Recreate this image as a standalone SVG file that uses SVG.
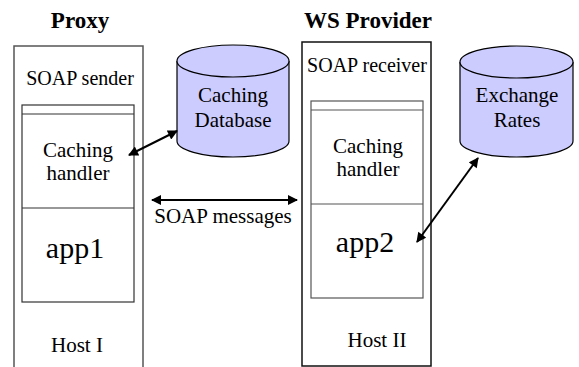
<svg xmlns="http://www.w3.org/2000/svg" width="579" height="367" viewBox="0 0 579 367" font-family="'Liberation Serif', 'Times New Roman', serif">
<style>
text{font-family:'Liberation Serif','Times New Roman',Times,serif;fill:#000;text-anchor:middle}
.t{font-size:20px}
.m{font-size:21px}
.b{font-size:23px;font-weight:bold}
.big{font-size:30px}
.host{fill:#fff;stroke:#555;stroke-width:1.5}
.box{fill:#fff;stroke:#333;stroke-width:1.2}
.cyl{fill:#ccccff;stroke:#000;stroke-width:1.2}
.conn{stroke:#000;stroke-width:2;fill:none;marker-start:url(#ah);marker-end:url(#ah)}
</style>
<defs>
<marker id="ah" viewBox="0 0 10 10" refX="9" refY="5" markerWidth="5.5" markerHeight="5" orient="auto-start-reverse" markerUnits="strokeWidth">
<path d="M0,0 L10,5 L0,10 z" fill="#000"/>
</marker>
</defs>
<rect width="579" height="367" fill="#fff"/>
<g id="proxy">
<text class="b" x="80" y="28">Proxy</text>
<path class="host" d="M14,367 V46 H143 V367"/>
<text class="t" x="80" y="85">SOAP sender</text>
<text class="m" x="77" y="352">Host I</text>
</g>
<g id="proxy-stack">
<rect class="box" x="22" y="105" width="112" height="197"/>
<line class="box" x1="22" y1="114" x2="134" y2="114"/>
<line class="box" x1="22" y1="208" x2="134" y2="208"/>
<text class="m" x="78" y="157">Caching</text>
<text class="m" x="78" y="180">handler</text>
<text class="big" x="75" y="258">app1</text>
</g>
<g id="caching-db">
<path class="cyl" d="M177,61 V141 A56,16 0 0 0 289,141 V61 A56,16 0 0 0 177,61 Z"/>
<path class="cyl" fill="none" d="M177,61 A56,16 0 0 0 289,61"/>
<text class="m" x="233" y="102">Caching</text>
<text class="m" x="233" y="127">Database</text>
</g>
<g id="provider">
<text class="b" x="368" y="28">WS Provider</text>
<rect class="host" x="302" y="42" width="129" height="324" style="stroke:#111"/>
<text class="t" x="367" y="72">SOAP receiver</text>
<text class="m" x="377" y="347">Host II</text>
</g>
<g id="provider-stack">
<rect class="box" x="311" y="101" width="112" height="197" style="stroke:#555"/>
<line class="box" x1="311" y1="110" x2="423" y2="110" style="stroke:#555"/>
<line class="box" x1="311" y1="204" x2="423" y2="204" style="stroke:#555"/>
<text class="m" x="368" y="153">Caching</text>
<text class="m" x="368" y="176">handler</text>
<text class="big" x="365" y="252">app2</text>
</g>
<g id="exchange-rates">
<path class="cyl" d="M460,62 V141 A56.5,16 0 0 0 573,141 V62 A56.5,16 0 0 0 460,62 Z"/>
<path class="cyl" fill="none" d="M460,62 A56.5,16 0 0 0 573,62"/>
<text class="m" x="517" y="102">Exchange</text>
<text class="m" x="517" y="127">Rates</text>
</g>
<g id="connectors">
<line class="conn" x1="129" y1="155" x2="177" y2="131"/>
<line class="conn" x1="152" y1="200" x2="297" y2="200"/>
<line class="conn" x1="417" y1="242" x2="478" y2="158"/>
</g>
<text class="m" x="223" y="223">SOAP messages</text>
</svg>
